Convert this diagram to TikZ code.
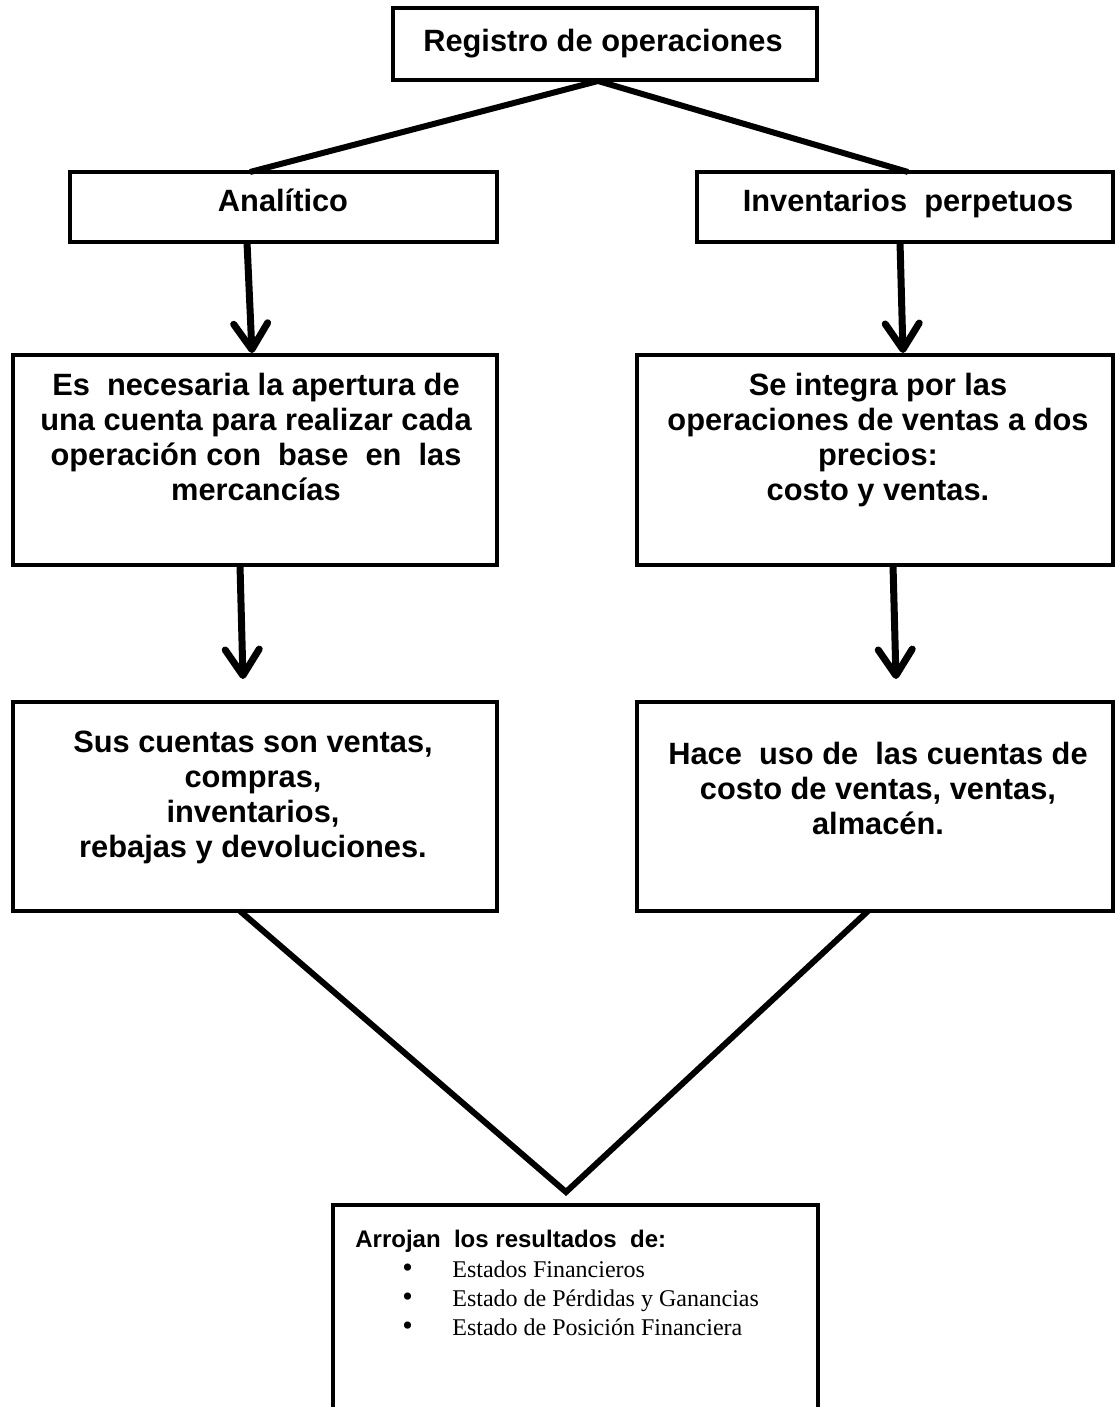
\documentclass[tikz,border=0pt]{standalone}
\usepackage{fontspec}
\setmainfont{Liberation Sans}
\newfontfamily\serifrm{Liberation Serif}
\usetikzlibrary{arrows.meta}
\newcommand{\bulitem}{\makebox[48.5pt][l]{\hspace{23.5pt}\smash{\fontsize{15pt}{0pt}\selectfont\textbullet}}}
\begin{document}
\begin{tikzpicture}[x=0.5pt,y=-0.5pt,
  boxst/.style={draw=black,line width=2.4pt,rectangle,inner sep=0pt},
  txtst/.style={align=center,inner sep=0pt,font=\fontsize{15.4pt}{17.5pt}\selectfont\bfseries},
  linkst/.style={line width=3pt},
  arrst/.style={line width=3.5pt,-{Straight Barb[length=13pt,width=17pt,line cap=round,line join=round]}}]
\useasboundingbox (0,0) rectangle (1114,1407);
% boxes
\draw[boxst] (393,8) rectangle (817,80);
\draw[boxst] (70,172) rectangle (497,242);
\draw[boxst] (697,172) rectangle (1113,242);
\draw[boxst] (13,355) rectangle (497,565);
\draw[boxst] (637,355) rectangle (1113,565);
\draw[boxst] (13,702) rectangle (497,911);
\draw[boxst] (637,702) rectangle (1113,911);
\draw[boxst] (333,1205) rectangle (818,1420);
% texts
\node[txtst,anchor=base] (ttop) at (603,52) {Registro de operaciones};
\node[txtst,anchor=base] (tana) at (283,212) {Analítico};
\node[txtst,anchor=base] (tinv) at (908,212) {Inventarios\ \ perpetuos};
\node[txtst,anchor=north] (tb3l) at (256,373) {Es\ \ necesaria la apertura de\\una cuenta para realizar cada\\operación con\ \ base\ \ en\ \ las\\mercancías};
\node[txtst,anchor=north] (tb3r) at (878,373) {Se integra por las\\operaciones de ventas a dos\\precios:\\costo y ventas.};
\node[txtst,anchor=north] (tb4l) at (253,731) {Sus cuentas son ventas,\\compras,\\inventarios,\\rebajas y devoluciones.};
\node[txtst,anchor=north] (tb4r) at (878,742) {Hace\ \ uso de\ \ las cuentas de\\costo de ventas, ventas,\\almacén.};
\node[anchor=north west,align=left,inner sep=0pt,font=\fontsize{12pt}{14.6pt}\selectfont] (tbot) at (355,1230)
 {{\bfseries Arrojan\ \ los resultados\ \ de:}\\
  \serifrm\bulitem Estados Financieros\\
  \serifrm\bulitem Estado de Pérdidas y Ganancias\\
  \serifrm\bulitem Estado de Posición Financiera};
% connector endpoints
\coordinate (ctop) at (598,81);
\coordinate (cana) at (250,172);
\coordinate (cinv) at (908,172);
\coordinate (a1s) at (247,242); \coordinate (a1e) at (252,353);
\coordinate (a2s) at (900,242); \coordinate (a2e) at (903,353);
\coordinate (a3s) at (240,565); \coordinate (a3e) at (243,679);
\coordinate (a4s) at (893,565); \coordinate (a4e) at (896,679);
\coordinate (vl) at (240,911); \coordinate (vr) at (868,911);
\coordinate (vm) at (566,1192);
% connectors
\draw[linkst] (cana) -- (ctop) -- (cinv);
\draw[arrst] (a1s) -- (a1e);
\draw[arrst] (a2s) -- (a2e);
\draw[arrst] (a3s) -- (a3e);
\draw[arrst] (a4s) -- (a4e);
\draw[linkst,line join=miter] (vl) -- (vm) -- (vr);
\end{tikzpicture}
\end{document}
